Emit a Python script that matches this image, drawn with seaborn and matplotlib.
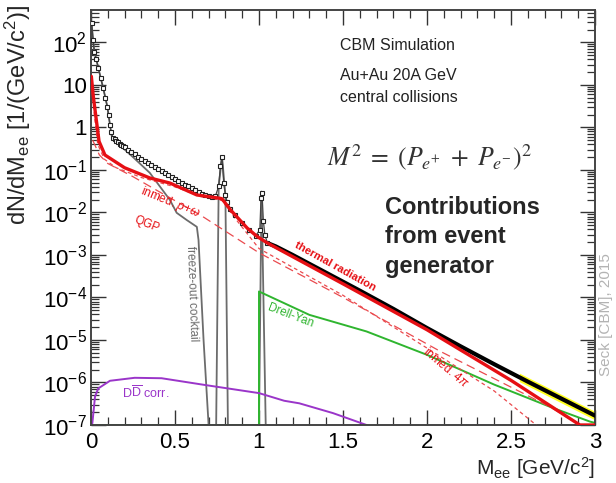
import numpy as np
import pandas as pd
import seaborn as sns
import matplotlib
matplotlib.use("Agg")
import matplotlib.pyplot as plt
from matplotlib.ticker import FixedLocator, FixedFormatter, MultipleLocator, LogLocator, NullFormatter

# ------------------------------------------------------------
# data (y values given as log10 of dN/dM)
# ------------------------------------------------------------
data_x = [0.005, 0.012, 0.02, 0.032, 0.044, 0.058, 0.073, 0.085, 0.097, 0.105,
          0.113, 0.12, 0.13, 0.14, 0.15, 0.16, 0.17, 0.18, 0.19, 0.20,
          0.22, 0.24, 0.26, 0.28, 0.30, 0.32, 0.34, 0.36, 0.38, 0.40,
          0.42, 0.44, 0.46, 0.48, 0.50, 0.52, 0.54, 0.56, 0.58, 0.60,
          0.62, 0.64, 0.66, 0.68, 0.70, 0.72, 0.74, 0.76, 0.77, 0.78,
          0.79, 0.80, 0.81, 0.83, 0.86, 0.90, 0.94, 0.98, 1.005, 1.012,
          1.018, 1.026, 1.035, 1.05]
data_logy = [2.45, 2.05, 1.78, 1.60, 1.39, 1.15, 0.92, 0.70, 0.49, 0.28,
             0.06, -0.12, -0.24, -0.28, -0.32, -0.35, -0.38, -0.41, -0.44, -0.47,
             -0.53, -0.58, -0.63, -0.69, -0.74, -0.79, -0.84, -0.89, -0.93, -0.97,
             -1.02, -1.07, -1.12, -1.17, -1.22, -1.26, -1.31, -1.35, -1.39, -1.43,
             -1.48, -1.52, -1.57, -1.60, -1.62, -1.63, -1.62, -1.39, -0.92, -0.69,
             -1.31, -1.59, -1.75, -1.92, -2.06, -2.25, -2.42, -2.55, -2.41, -1.67,
             -1.55, -2.20, -2.53, -2.72]
# high mass part of the data, dense points -> drawn as a thick band
data_hi_x = [1.05, 1.1, 1.2, 1.4, 1.6, 1.8, 2.0, 2.2, 2.4, 2.6, 2.8, 3.0]
data_hi_logy = [-2.72, -2.80, -3.00, -3.42, -3.84, -4.27, -4.72, -5.15, -5.57, -5.98, -6.38, -6.78]

# yellow systematic band at the end of the spectrum
band_x = [2.55, 2.6, 2.7, 2.8, 2.9, 3.0]
band_lo = [-5.98, -6.08, -6.28, -6.48, -6.68, -6.88]
band_hi = [-5.78, -5.88, -6.08, -6.28, -6.48, -6.68]

# thermal radiation (sum)
thermal_x = [0.002, 0.014, 0.034, 0.048, 0.083, 0.2, 0.35, 0.47, 0.63, 0.70,
             0.77, 0.78, 0.83, 0.93, 0.99, 1.05, 1.5, 2.0, 2.5, 2.91, 3.0]
thermal_logy = [1.20, 0.72, 0.10, -0.33, -0.65, -0.95, -1.19, -1.31, -1.59, -1.63,
                -1.67, -1.68, -1.94, -2.37, -2.57, -2.72, -3.68, -4.76, -5.95, -7.0, -7.0]

# in-medium rho+omega / 4pi
inmed_x = [0.003, 0.02, 0.04, 0.08, 0.15, 0.3, 0.5, 0.65, 0.78, 0.85,
           1.0, 1.5, 2.08, 2.4, 2.65]
inmed_logy = [1.0, 0.3, -0.4, -0.75, -0.95, -1.18, -1.40, -1.62, -1.72, -2.10,
              -2.85, -3.95, -5.39, -6.20, -7.0]

# QGP
qgp_x = [0.01, 0.05, 0.1, 0.25, 0.4, 0.65, 1.0, 1.5, 2.08, 2.73, 2.91]
qgp_logy = [-0.30, -0.65, -0.85, -1.16, -1.50, -2.06, -2.95, -4.0, -5.27, -6.57, -7.0]

# freeze-out cocktail
cocktail_x = [0.0, 0.02, 0.044, 0.073, 0.097, 0.113, 0.123, 0.155, 0.25, 0.35,
              0.47, 0.51, 0.57, 0.63, 0.64, 0.67, 0.70, 0.745, 0.76, 0.78,
              0.80, 0.815, 1.0, 1.015, 1.04, 1.05]
cocktail_logy = [2.55, 1.78, 1.39, 0.92, 0.49, 0.06, -0.20, -0.36, -0.70, -1.07,
                 -1.71, -2.01, -2.18, -2.34, -2.65, -5.0, -7.0, -7.0, -1.39, -0.69,
                 -1.59, -7.0, -7.0, -1.51, -7.0, -7.0]

# Drell-Yan
dy_x = [0.0, 1.0, 1.0, 1.3, 1.64, 2.0, 2.4, 2.75, 2.97, 3.0]
dy_logy = [-7.0, -7.0, -3.86, -4.41, -4.80, -5.35, -6.05, -6.60, -6.92, -6.95]

# DDbar correlated
dd_x = [0.0, 0.008, 0.024, 0.043, 0.113, 0.26, 0.42, 0.68, 1.0, 1.15, 1.24, 1.44, 1.64]
dd_logy = [-7.0, -6.96, -6.33, -6.14, -5.96, -5.89, -5.90, -6.06, -6.25, -6.43, -6.49, -6.72, -7.0]

x_ticks = [0, 0.5, 1, 1.5, 2, 2.5, 3]
x_ticklabels = ['0', '0.5', '1', '1.5', '2', '2.5', '3']
y_ticks = [1e-7, 1e-6, 1e-5, 1e-4, 1e-3, 1e-2, 1e-1, 1, 10, 100]
y_ticklabels = ['$10^{-7}$', '$10^{-6}$', '$10^{-5}$', '$10^{-4}$', '$10^{-3}$',
                '$10^{-2}$', '$10^{-1}$', '1', '10', '$10^{2}$']

# ------------------------------------------------------------
# style
# ------------------------------------------------------------
sns.set_theme(style='ticks')
plt.rcParams['font.family'] = ['Liberation Sans', 'DejaVu Sans']
plt.rcParams['mathtext.fontset'] = 'custom'
plt.rcParams['mathtext.rm'] = 'Liberation Sans'
plt.rcParams['mathtext.it'] = 'Liberation Sans:italic'
plt.rcParams['mathtext.bf'] = 'Liberation Sans:bold'

RED = '#e60f14'
RED_THIN = '#ea4a4e'
GREY = '#6c6c6c'
GREEN = '#2fb52f'
PURPLE = '#9a35c9'

W, H = 616, 483
fig = plt.figure(figsize=(W / 100, H / 100), dpi=100)
ax = fig.add_axes([91 / W, 58 / H, 504 / W, 415 / H])


def pos(x, y):
    # pixel position in the picture -> figure fraction
    return x / W, 1 - y / H


def tolin(v):
    return np.power(10.0, np.array(v))


def line(x, logy, **kw):
    df = pd.DataFrame({'x': x, 'y': tolin(logy)})
    sns.lineplot(data=df, x='x', y='y', ax=ax, estimator=None, sort=False, **kw)


# yellow band
ax.fill_between(band_x, tolin(band_lo), tolin(band_hi), color='#ffff20', lw=0, zorder=1)

line(cocktail_x, cocktail_logy, color=GREY, lw=1.3, zorder=2)
line(dy_x, dy_logy, color=GREEN, lw=1.4, zorder=2)
line(dd_x, dd_logy, color=PURPLE, lw=1.4, zorder=2)
line(inmed_x, inmed_logy, color=RED_THIN, lw=0.9, dashes=(3, 2.5), zorder=3)
line(qgp_x, qgp_logy, color=RED_THIN, lw=0.9, dashes=(7, 4), zorder=3)

# data points
line(data_hi_x, data_hi_logy, color='black', lw=3.0, zorder=4)
line(data_x, data_logy, color='#444444', lw=0.9, marker='s', markersize=3.3,
     markerfacecolor='white', markeredgecolor='#222222', markeredgewidth=0.8, zorder=4)

line(thermal_x, thermal_logy, color=RED, lw=2.4, zorder=5)

ax.set_yscale('log')
ax.set_xlim(0, 3)
ax.set_ylim(1e-7, 10 ** 2.76)

ax.xaxis.set_major_locator(FixedLocator(x_ticks))
ax.xaxis.set_major_formatter(FixedFormatter(x_ticklabels))
ax.xaxis.set_minor_locator(MultipleLocator(0.1))
ax.yaxis.set_major_locator(FixedLocator(y_ticks))
ax.yaxis.set_major_formatter(FixedFormatter(y_ticklabels))
ax.yaxis.set_minor_locator(LogLocator(base=10, subs=np.arange(2, 10), numticks=200))
ax.yaxis.set_minor_formatter(NullFormatter())

ax.tick_params(which='both', direction='in', top=True, right=True, colors='#333333',
               labelcolor='black', labelsize=16)
ax.tick_params(which='major', length=11, width=1.0)
ax.tick_params(which='minor', length=5.5, width=0.9)
ax.tick_params(axis='x', which='major', pad=5)
ax.tick_params(axis='y', which='major', pad=3)
for s in ax.spines.values():
    s.set_color('#444444')
    s.set_linewidth(1.4)

ax.set_xlabel(r'M$_{\mathrm{ee}}$ [GeV/c$^{2}$]', fontsize=15, loc='right')
ax.set_ylabel(r'dN/dM$_{\mathrm{ee}}$ [1/(GeV/c$^{2}$)]', fontsize=17, loc='top')
ax.xaxis.set_label_coords(1.0, -0.072)
ax.yaxis.set_label_coords(-0.115, 1.012)

# ------------------------------------------------------------
# annotations
# ------------------------------------------------------------
fig.text(*pos(340, 45), 'CBM Simulation', fontsize=11.5, color='#222222', va='center')
fig.text(*pos(340, 76), 'Au+Au 20A GeV', fontsize=11.5, color='#222222', va='center')
fig.text(*pos(340, 97), 'central collisions', fontsize=11.5, color='#222222', va='center')
fig.text(*pos(327, 157), r'$M^2\;=\;(P_{e^{+}}\;+\;P_{e^{-}})^2$', fontsize=18.5,
         color='#333333', va='center', math_fontfamily='stix')
for i, t in enumerate(['Contributions', 'from event', 'generator']):
    fig.text(*pos(385, 207 + 30 * i), t, fontsize=17, fontweight='bold', va='center')

fig.text(*pos(335, 266), 'thermal radiation', fontsize=8, fontweight='bold', color=RED,
         rotation=-29, ha='center', va='center')
fig.text(*pos(170, 202), r'inmed. $\rho$+$\omega$', fontsize=8.5, color=RED,
         rotation=-22, ha='center', va='center')
fig.text(*pos(147, 224), 'QGP', fontsize=8.5, color=RED, rotation=-22, ha='center', va='center')
fig.text(*pos(192, 294), 'freeze-out cocktail', fontsize=8.5, color=GREY, rotation=-88,
         ha='center', va='center')
fig.text(*pos(291, 316), 'Drell-Yan', fontsize=8.5, color=GREEN, rotation=-21,
         ha='center', va='center')
fig.text(*pos(446, 367), r'inmed. 4$\pi$', fontsize=8.5, color=RED, rotation=-40,
         ha='center', va='center')
fig.text(*pos(146, 393), r'D$\overline{\mathrm{D}}$ corr.', fontsize=9, color=PURPLE,
         ha='center', va='center')
fig.text(*pos(606, 315), 'Seck [CBM], 2015', fontsize=11, color='#b3b3b3', rotation=90,
         ha='center', va='center')

fig.savefig('out.png', dpi=100)
